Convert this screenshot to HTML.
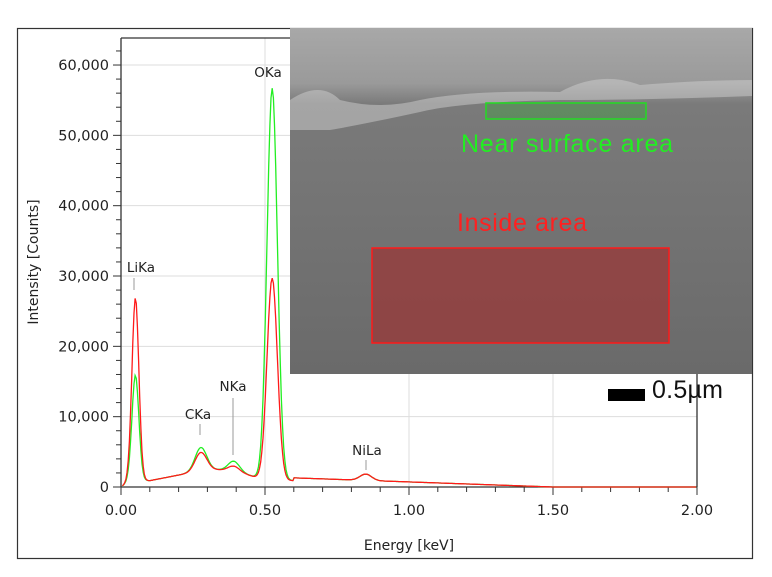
<!DOCTYPE html>
<html><head><meta charset="utf-8"><style>
body{margin:0;background:#fff;}
svg{display:block;font-family:"DejaVu Sans","Liberation Sans",sans-serif;}
</style></head><body>
<svg id="s" width="772" height="577" viewBox="0 0 772 577" xmlns="http://www.w3.org/2000/svg">
<rect x="0" y="0" width="772" height="577" fill="#fff"/>
<rect x="17.5" y="28.5" width="735" height="530" fill="#fff" stroke="#333" stroke-width="1.2"/>
<g id="grid" stroke="#ddd" stroke-width="1"></g>
<g id="ticks" stroke="#333" stroke-width="1"></g>
<line x1="121" y1="38" x2="121" y2="487" stroke="#333" stroke-width="1.3"/>
<line x1="121" y1="38" x2="290" y2="38" stroke="#333" stroke-width="1.3"/>
<line x1="697" y1="374" x2="697" y2="487" stroke="#333" stroke-width="1.3"/>
<line x1="121" y1="487" x2="697" y2="487" stroke="#333" stroke-width="1.3"/>
<g id="ylab" font-size="14.5" fill="#222" text-anchor="end"></g>
<g id="xlab" font-size="14.5" fill="#222" text-anchor="middle"></g>
<text x="409" y="550" font-size="14" fill="#222" text-anchor="middle">Energy [keV]</text>
<text transform="translate(38,262) rotate(-90)" font-size="14" fill="#222" text-anchor="middle">Intensity [Counts]</text>
<path id="gr" fill="none" stroke="#22ee22" stroke-width="1.3"/>
<path id="rd" fill="none" stroke="#ff1a1a" stroke-width="1.3"/>
<g font-size="13.5" fill="#222" text-anchor="middle">
<text x="141" y="272">LiKa</text><line x1="134" y1="278" x2="134" y2="290" stroke="#999"/>
<text x="198" y="419">CKa</text><line x1="200" y1="424" x2="200" y2="435" stroke="#999"/>
<text x="233" y="391">NKa</text><line x1="233" y1="398" x2="233" y2="455" stroke="#999"/>
<text x="268" y="77">OKa</text>
<text x="367" y="455">NiLa</text><line x1="366" y1="460" x2="366" y2="470" stroke="#999"/>
</g>
<defs><linearGradient id="bg" x1="0" y1="0" x2="0" y2="1">
<stop offset="0" stop-color="#a8a8a8"/><stop offset="0.16" stop-color="#9a9a9a"/><stop offset="0.22" stop-color="#7a7a7a"/><stop offset="1" stop-color="#6a6a6a"/></linearGradient></defs>
<rect x="290" y="28" width="462" height="346" fill="url(#bg)"/>
<path d="M290 100 Q320 80 340 100 Q380 110 420 100 Q470 90 560 92 Q600 70 640 85 Q700 80 752 80 L752 96 Q650 100 560 100 Q460 102 420 112 Q360 125 330 130 L290 130Z" fill="#d0d0d0" opacity="0.5"/>
<rect x="486" y="103" width="160" height="16" fill="#4a9a4a" fill-opacity="0.5" stroke="#22dd22" stroke-width="1.5"/>
<text x="461" y="152" font-size="25" fill="#22ee22" font-family="Liberation Sans,sans-serif" textLength="212">Near surface area</text>
<text x="457" y="231" font-size="25" fill="#ff2020" font-family="Liberation Sans,sans-serif" textLength="130">Inside area</text>
<rect x="372" y="248" width="297" height="95" fill="#9a3838" fill-opacity="0.75" stroke="#ff1a1a" stroke-width="1.5"/>
<rect x="608" y="389" width="37" height="12" fill="#000"/>
<text x="652" y="398" font-size="25" fill="#111" font-family="Liberation Sans,sans-serif" textLength="71">0.5µm</text>
</svg>
<script>
var NS="http://www.w3.org/2000/svg";
function X(e){return 121+e*288;}function Y(c){return 487-c*0.007033;}
function el(p,t,a,txt){var e=document.createElementNS(NS,t);for(var k in a)e.setAttribute(k,a[k]);if(txt)e.textContent=txt;document.getElementById(p).appendChild(e);}
for(var i=1;i<=6;i++){var y=Y(i*10000);el("grid","line",{x1:121,x2:i>=2?290:697,y1:y,y2:y});}
for(var i=1;i<=4;i++){var x=X(i*0.5);el("grid","line",{x1:x,x2:x,y1:i<=1?38:374,y2:487});}
for(var i=0;i<=62;i+=2){var y=Y(i*1000);el("ticks","line",{x1:i%10==0?113:116,x2:121,y1:y,y2:y});}
for(var i=0;i<=20;i++){var x=X(i*0.1);el("ticks","line",{x1:x,x2:x,y1:487,y2:i%5==0?495:492});}
for(var i=0;i<=6;i++)el("ylab","text",{x:109,y:Y(i*10000)+5},(i*10).toString()+(i?",000":""));
["0.00","0.50","1.00","1.50","2.00"].forEach(function(t,i){el("xlab","text",{x:X(i*0.5),y:515},t);});
function g(e,m,s,a){return a*Math.exp(-0.5*Math.pow((e-m)/s,2));}
function spec(li,c,n,o){var d="";for(var e=0.005;e<=2.0;e+=0.004){var bg=0;
if(e<0.6)bg=900+Math.max(0,(e-0.1))*8000*(e<0.3?1:Math.max(0,1-(e-0.3)/0.2));else bg=Math.max(0,1300*(1-(e-0.6)/0.9));
if(e<0.03)bg=(e/0.03)*900;
var v=bg+g(e,0.05,0.012,li)+g(e,0.277,0.02,c)+g(e,0.392,0.02,n)+g(e,0.525,0.018,o)+g(e,0.85,0.02,900);
d+=(d?"L":"M")+X(e).toFixed(1)+" "+Y(v).toFixed(1);}return d;}
document.getElementById("gr").setAttribute("d",spec(15000,3300,1500,55800));
document.getElementById("rd").setAttribute("d",spec(26000,2600,800,28800));
</script>
</body></html>
